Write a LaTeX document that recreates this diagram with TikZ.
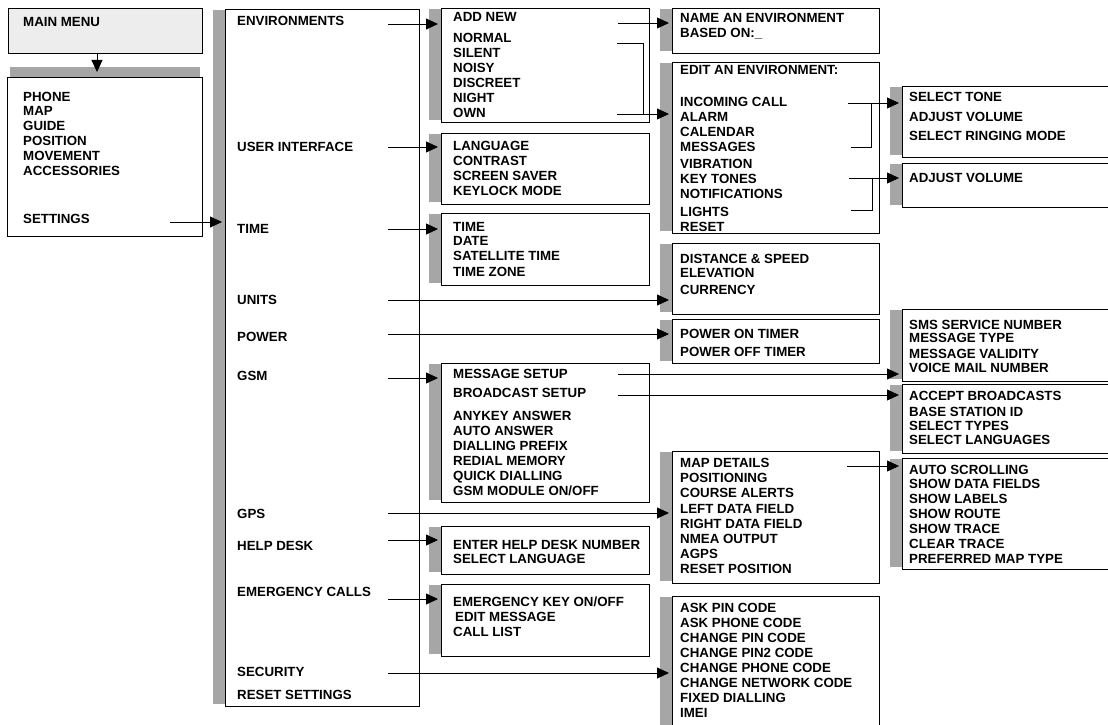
\documentclass[tikz,border=0pt]{standalone}
\usepackage{fontspec}
\setmainfont{Liberation Sans}
\usetikzlibrary{arrows.meta}
\definecolor{barc}{HTML}{A6A6A6}
\definecolor{mmfill}{HTML}{EDEDED}
% name, x1, y1, x2, y2 : box with a grey bar on its left
\newcommand\menubox[5]{%
  \fill[barc] ({#2-12},{#3+1}) rectangle (#2,{#5-2});
  \node[box, anchor=north west, minimum width={#4-#2}, minimum height={#5-#3}] (#1) at (#2,#3) {};}
% prefix, x, list of y/text
\newcommand\items[3]{\foreach \yy/\ty [count=\ii] in {#3} {\node[item] (#1-\ii) at (#2,\yy) {\ty};}}
\begin{document}
\begin{tikzpicture}[x=1pt,y=-1pt,
  font=\fontsize{13.3}{15}\selectfont\bfseries,
  box/.style={draw, line width=.8pt, fill=white, inner sep=0pt, outer sep=0pt},
  item/.style={anchor=base west, inner sep=0pt, yshift=-4.7pt},
  arr/.style={line width=.8pt, -{Triangle[length=12pt,width=11pt]}, shorten >=3pt},
  conn/.style={line width=.8pt}]
\useasboundingbox (0,0) rectangle (1108,725);
\clip (0,0) rectangle (1108,725);
% main menu
\node[box, fill=mmfill, anchor=north west, minimum width=194, minimum height=45] (mainmenu) at (8,8) {};
\node[item] (mm-t) at (23,22) {MAIN MENU};
\fill[barc] (10,67) rectangle (200,77);
\node[box, anchor=north west, minimum width=195, minimum height=159] (topbox) at (7,77) {};
\items{top}{23}{97/PHONE,111/MAP,126/GUIDE,141/POSITION,156/MOVEMENT,171/ACCESSORIES,219/SETTINGS}
% settings
\menubox{settings}{225}{9}{419}{706}
\items{set}{237}{21/ENVIRONMENTS,147/USER INTERFACE,229/TIME,300/UNITS,337/POWER,376/GSM,514/GPS,546/HELP DESK,592/EMERGENCY CALLS,672/SECURITY,695/RESET SETTINGS}
% second column
\menubox{envbox}{441}{8}{649}{122}
\items{env}{453}{17/ADD NEW,38/NORMAL,53/SILENT,68/NOISY,83/DISCREET,98/NIGHT,113/OWN}
\menubox{uibox}{441}{133}{649}{204}
\items{ui}{453}{146/LANGUAGE,161/CONTRAST,176/SCREEN SAVER,191/KEYLOCK MODE}
\menubox{timebox}{441}{213}{649}{285}
\items{time}{453}{227/TIME,241/DATE,256/SATELLITE TIME,272/TIME ZONE}
\menubox{gsmbox}{441}{363}{649}{502}
\items{gsm}{453}{374/MESSAGE SETUP,393/BROADCAST SETUP,416/ANYKEY ANSWER,431/AUTO ANSWER,446/DIALLING PREFIX,461/REDIAL MEMORY,476/QUICK DIALLING,491/{GSM MODULE ON/OFF}}
\menubox{helpbox}{441}{526}{649}{574}
\items{help}{453}{545/ENTER HELP DESK NUMBER,559/SELECT LANGUAGE}
\menubox{emergbox}{441}{584}{649}{656}
\items{emerg}{453}{602/{EMERGENCY KEY ON/OFF},632/CALL LIST}
\node[item] (emerg-edit) at (455,617) {EDIT MESSAGE};
% third column
\menubox{namebox}{672}{8}{879}{53}
\items{name}{680}{18/NAME AN ENVIRONMENT,33/BASED ON:\_}
\menubox{editbox}{672}{62}{879}{233}
\items{edit}{680}{70/EDIT AN ENVIRONMENT:,102/INCOMING CALL,117/ALARM,132/CALENDAR,147/MESSAGES,164/VIBRATION,179/KEY TONES,194/NOTIFICATIONS,212/LIGHTS,227/RESET}
\menubox{unitsbox}{672}{243}{879}{314}
\items{units}{680}{259/DISTANCE \& SPEED,273/ELEVATION,290/CURRENCY}
\menubox{powerbox}{672}{319}{879}{363}
\items{power}{680}{334/POWER ON TIMER,352/POWER OFF TIMER}
\menubox{gpsbox}{672}{451}{879}{583}
\items{gps}{680}{463/MAP DETAILS,478/POSITIONING,493/COURSE ALERTS,509/LEFT DATA FIELD,524/RIGHT DATA FIELD,539/NMEA OUTPUT,554/AGPS,569/RESET POSITION}
\menubox{secbox}{672}{596}{879}{740}
\items{sec}{680}{608/ASK PIN CODE,623/ASK PHONE CODE,638/CHANGE PIN CODE,653/CHANGE PIN2 CODE,668/CHANGE PHONE CODE,683/CHANGE NETWORK CODE,698/FIXED DIALLING,713/IMEI}
% fourth column
\menubox{tonebox}{902}{86}{1115}{157}
\items{tone}{909}{97/SELECT TONE,117/ADJUST VOLUME,136/SELECT RINGING MODE}
\menubox{volbox}{902}{163}{1115}{207}
\items{vol}{909}{178/ADJUST VOLUME}
\menubox{smsbox}{902}{309}{1115}{381}
\items{sms}{909}{325/SMS SERVICE NUMBER,338/MESSAGE TYPE,354/MESSAGE VALIDITY,368/VOICE MAIL NUMBER}
\menubox{bcastbox}{902}{384}{1115}{453}
\items{bcast}{909}{396/ACCEPT BROADCASTS,412/BASE STATION ID,426/SELECT TYPES,440/SELECT LANGUAGES}
\menubox{mapbox}{902}{458}{1115}{569}
\items{map}{909}{470/AUTO SCROLLING,484/SHOW DATA FIELDS,499/SHOW LABELS,514/SHOW ROUTE,529/SHOW TRACE,544/CLEAR TRACE,559/PREFERRED MAP TYPE}
% connector start points
\coordinate (c-mm) at (97,53);
\coordinate (c-set) at (170,222);
\coordinate (c-env) at (388,24);
\coordinate (c-ui) at (388,147);
\coordinate (c-time) at (388,229);
\coordinate (c-units) at (388,300);
\coordinate (c-power) at (388,334);
\coordinate (c-gsm) at (388,378);
\coordinate (c-gps) at (388,513);
\coordinate (c-help) at (388,540);
\coordinate (c-emerg) at (388,599);
\coordinate (c-sec) at (388,673);
\coordinate (c-add) at (618,23);
\coordinate (c-normal) at (617,43);
\coordinate (c-own) at (617,114);
\coordinate (c-inc) at (848,103);
\coordinate (c-msgs) at (851,147);
\coordinate (c-key) at (849,178);
\coordinate (c-lights) at (851,210);
\coordinate (c-msg) at (618,374);
\coordinate (c-bcast) at (618,395);
\coordinate (c-map) at (847,466);
% connectors
\draw[arr, shorten >=5pt] (c-mm) -- (c-mm |- topbox.north);
\draw[arr] (c-set) -- (c-set -| settings.west);
\draw[arr] (c-env) -- (c-env -| envbox.west);
\draw[arr] (c-ui) -- (c-ui -| uibox.west);
\draw[arr] (c-time) -- (c-time -| timebox.west);
\draw[arr] (c-units) -- (c-units -| unitsbox.west);
\draw[arr] (c-power) -- (c-power -| powerbox.west);
\draw[arr] (c-gsm) -- (c-gsm -| gsmbox.west);
\draw[arr] (c-gps) -- (c-gps -| gpsbox.west);
\draw[arr] (c-help) -- (c-help -| helpbox.west);
\draw[arr] (c-emerg) -- (c-emerg -| emergbox.west);
\draw[arr] (c-sec) -- (c-sec -| secbox.west);
\draw[arr] (c-add) -- (c-add -| namebox.west);
\draw[conn] (c-normal) -- ++(26,0) |- (c-own);
\draw[arr] (c-own) -- (c-own -| editbox.west);
\draw[arr] (c-inc) -- (c-inc -| tonebox.west);
\draw[conn] (c-msgs) -- ++(20,0) |- (c-inc);
\draw[arr] (c-key) -- (c-key -| volbox.west);
\draw[conn] (c-lights) -- ++(21,0) |- (c-key);
\draw[arr] (c-msg) -- (c-msg -| smsbox.west);
\draw[arr] (c-bcast) -- (c-bcast -| bcastbox.west);
\draw[arr] (c-map) -- (c-map -| mapbox.west);
\end{tikzpicture}
\end{document}
